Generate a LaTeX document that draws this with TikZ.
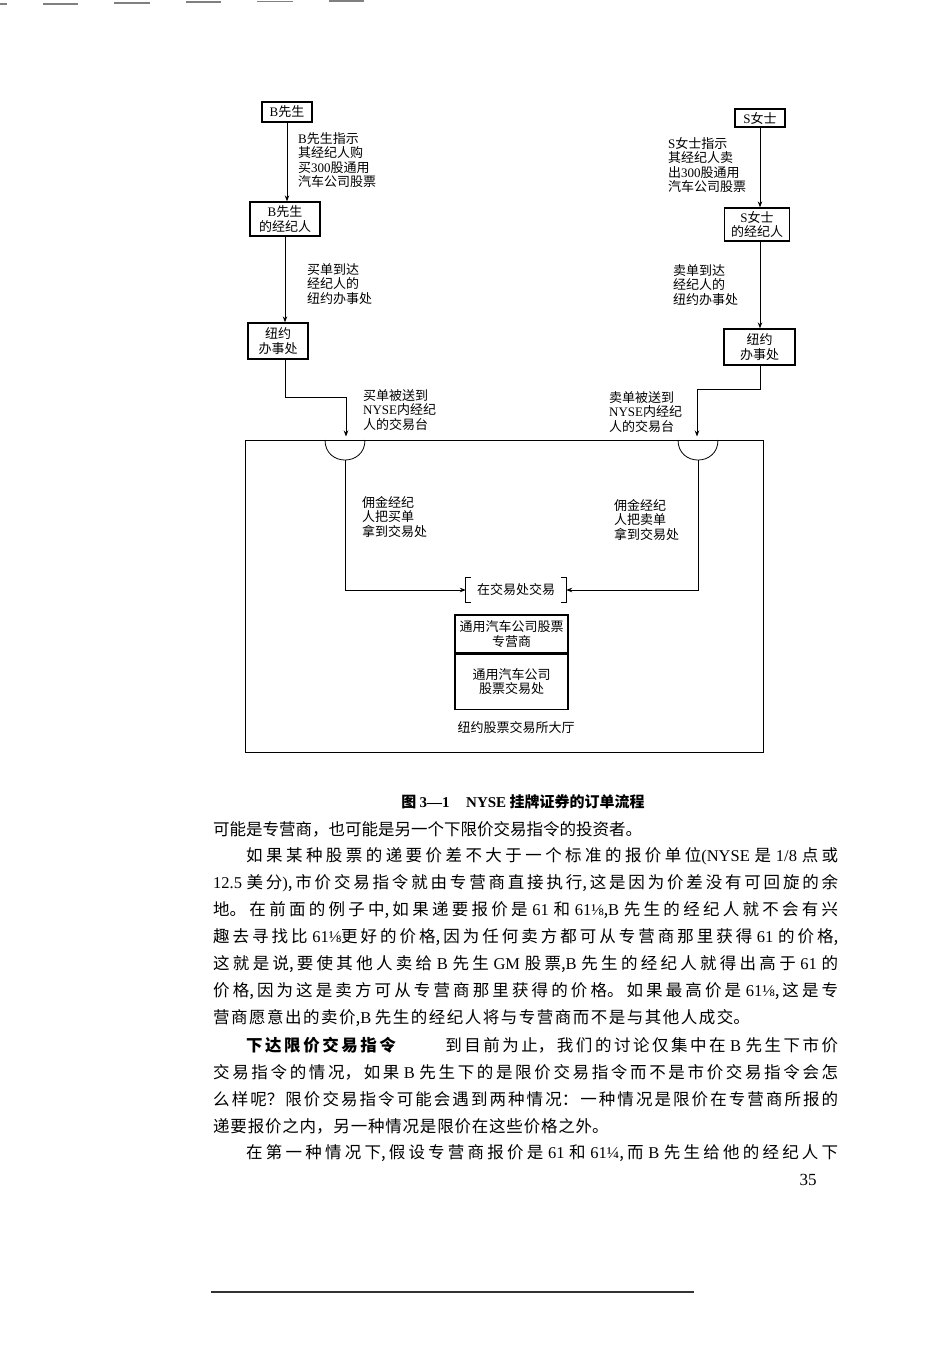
\documentclass[tikz,border=0pt]{standalone}
\usepackage{fontspec}
\setmainfont{Noto Sans CJK SC}
\newfontfamily\latf{Liberation Serif}
\newcommand\LT[1]{{\latf #1}}
\usetikzlibrary{arrows.meta}
\newcommand\dfont{\fontsize{13pt}{14.5pt}\selectfont}
\newcommand\bfontsz{\fontsize{16.5pt}{20pt}\selectfont}
\newcommand\bodyline[3]{\node[bodyn] (#1) at (213,#2) {\parbox{625pt}{\bfontsz\XeTeXlinebreaklocale "zh"\XeTeXlinebreakskip=0pt plus 6pt\tolerance=10000\hbadness=10000\parfillskip=0pt\noindent #3}};}
\newcommand\bodylast[4]{\node[bodyn] (#1) at (213,#2) {\parbox{625pt}{\bfontsz\XeTeXlinebreaklocale "zh"\XeTeXlinebreakskip=#3\noindent #4}};}
\begin{document}
\begin{tikzpicture}[x=1pt,y=-1pt,
  box/.style={draw, line width=1.3pt, inner sep=0pt, align=center, font=\dfont},
  lbl/.style={anchor=west, inner sep=0pt, align=left, font=\dfont},
  conn/.style={line width=0.8pt},
  arr/.style={conn, -{Stealth[length=6pt,width=4.5pt]}},
  bodyn/.style={anchor=west, inner sep=0pt},
  scan/.style={line width=1.5pt, gray}]
\useasboundingbox (0,0) rectangle (952,1347);

% scan marks
\draw[scan] (0,4) -- (7,4);
\draw[scan] (43,4) -- (78,4);
\draw[scan] (114,3) -- (150,3);
\draw[scan] (186,2) -- (221,2);
\draw[scan] (257,1.5) -- (293,1.5);
\draw[scan] (329,1) -- (364,1);
\draw[line width=1.2pt, black!80] (211,1292) -- (694,1292);

% floor
\node[draw, line width=1pt, minimum width=518pt, minimum height=312pt, inner sep=0pt] (floor) at (504,596) {};

% boxes
\node[box, minimum width=50pt, minimum height=20pt] (bS) at (287,112) {\LT{B}先生};
\node[box, minimum width=70pt, minimum height=34pt] (bB) at (285,219) {\LT{B}先生\\的经纪人};
\node[box, minimum width=60pt, minimum height=36pt] (bN) at (278,341) {纽约\\办事处};
\node[box, minimum width=50pt, minimum height=18pt] (sS) at (760,118) {\LT{S}女士};
\node[box, minimum width=65pt, minimum height=33pt] (sB) at (757,224.5) {\LT{S}女士\\的经纪人};
\node[box, minimum width=71pt, minimum height=36pt] (sN) at (759.5,347) {纽约\\办事处};

% labels
\node[lbl] (lbB1) at (298,160) {\LT{B}先生指示\\其经纪人购\\买\LT{300}股通用\\汽车公司股票};
\node[lbl] (lbB2) at (307,284) {买单到达\\经纪人的\\纽约办事处};
\node[lbl] (lbB3) at (363,410) {买单被送到\\\LT{NYSE}内经纪\\人的交易台};
\node[lbl] (lbS1) at (668,165) {\LT{S}女士指示\\其经纪人卖\\出\LT{300}股通用\\汽车公司股票};
\node[lbl] (lbS2) at (673,285) {卖单到达\\经纪人的\\纽约办事处};
\node[lbl] (lbS3) at (609,412) {卖单被送到\\\LT{NYSE}内经纪\\人的交易台};
\node[lbl] (lbL) at (362,517) {佣金经纪\\人把买单\\拿到交易处};
\node[lbl] (lbR) at (614,520) {佣金经纪\\人把卖单\\拿到交易处};

% connectors top
\draw[arr] (bS.south) -- (bS.south |- bB.north);
\draw[arr] (bB.south) -- (bB.south |- bN.north);
\coordinate (bT) at (346,397);
\draw[arr, shorten >=3pt] (bB.south |- bN.south) |- (bT) -- (bT |- floor.north);
\draw[arr] (sS.south) -- (sS.south |- sB.north);
\draw[arr] (sS.south |- sB.south) -- (sS.south |- sN.north);
\coordinate (sT) at (697,389);
\draw[arr, shorten >=3pt] (sS.south |- sN.south) |- (sT) -- (sT |- floor.north);

% cups
\draw[conn] (325,440) .. controls (325,466.7) and (365,466.7) .. (365,440);
\draw[conn] (678,440) .. controls (678,466.7) and (718,466.7) .. (718,440);
\coordinate (cupL) at (345,460);
\coordinate (cupR) at (698,460);

% trade
\node[inner sep=0pt, minimum width=100pt, minimum height=24pt, font=\dfont] (trade) at (516,590) {在交易处交易};
\draw[conn] ([xshift=5pt]trade.north west) -- (trade.north west) -- (trade.south west) -- ([xshift=5pt]trade.south west);
\draw[conn] ([xshift=-5pt]trade.north east) -- (trade.north east) -- (trade.south east) -- ([xshift=-5pt]trade.south east);
\draw[arr] (cupL) |- (trade.west);
\draw[arr] (cupR) |- (trade.east);

% specialist
\node[box, line width=1.2pt, minimum width=113pt, minimum height=38pt] (spec1) at (511.5,634) {通用汽车公司股票\\专营商};
\node[box, line width=1.2pt, minimum width=113pt, minimum height=55pt, anchor=north] (spec2) at (spec1.south) {通用汽车公司\\股票交易处};
\node[font=\dfont, inner sep=0pt] (hall) at (516,728) {纽约股票交易所大厅};

% caption
\node[inner sep=0pt] (cap) at (523,802) {\fontsize{15pt}{17pt}\selectfont\bfseries 图 \LT{3—1}\hspace{1.1em}\LT{NYSE} 挂牌证券的订单流程};

% body
\bodylast{l1}{829}{0pt}{可能是专营商，也可能是另一个下限价交易指令的投资者。}
\bodyline{l2}{856}{\hspace*{2em}如果某种股票的递要价差不大于一个标准的报价单位\LT{(NYSE} 是 \LT{1/8} 点或}
\bodyline{l3}{883}{\LT{12.5} 美分\LT{)},市价交易指令就由专营商直接执行,这是因为价差没有可回旋的余}
\bodyline{l4}{910}{地。在前面的例子中,如果递要报价是 \LT{61} 和 \LT{61⅛},\LT{B} 先生的经纪人就不会有兴}
\bodyline{l5}{937}{趣去寻找比 \LT{61⅛}更好的价格,因为任何卖方都可从专营商那里获得 \LT{61} 的价格,}
\bodyline{l6}{964}{这就是说,要使其他人卖给 \LT{B} 先生 \LT{GM} 股票,\LT{B} 先生的经纪人就得出高于 \LT{61} 的}
\bodyline{l7}{991}{价格,因为这是卖方可从专营商那里获得的价格。如果最高价是 \LT{61⅛},这是专}
\bodylast{l8}{1018}{1.5pt}{营商愿意出的卖价,\LT{B} 先生的经纪人将与专营商而不是与其他人成交。}
\bodyline{l9}{1045}{\hspace*{2em}{\bfseries 下达限价交易指令}\hspace{3em}到目前为止，我们的讨论仅集中在 \LT{B} 先生下市价}
\bodyline{l10}{1072}{交易指令的情况，如果 \LT{B} 先生下的是限价交易指令而不是市价交易指令会怎}
\bodyline{l11}{1099}{么样呢？限价交易指令可能会遇到两种情况：一种情况是限价在专营商所报的}
\bodylast{l12}{1126}{0.8pt}{递要报价之内，另一种情况是限价在这些价格之外。}
\bodyline{l13}{1153}{\hspace*{2em}在第一种情况下,假设专营商报价是 \LT{61} 和 \LT{61¼},而 \LT{B} 先生给他的经纪人下}

\node[inner sep=0pt] (pg) at (808,1180) {\fontsize{17pt}{20pt}\selectfont\LT{35}};
\end{tikzpicture}
\end{document}
